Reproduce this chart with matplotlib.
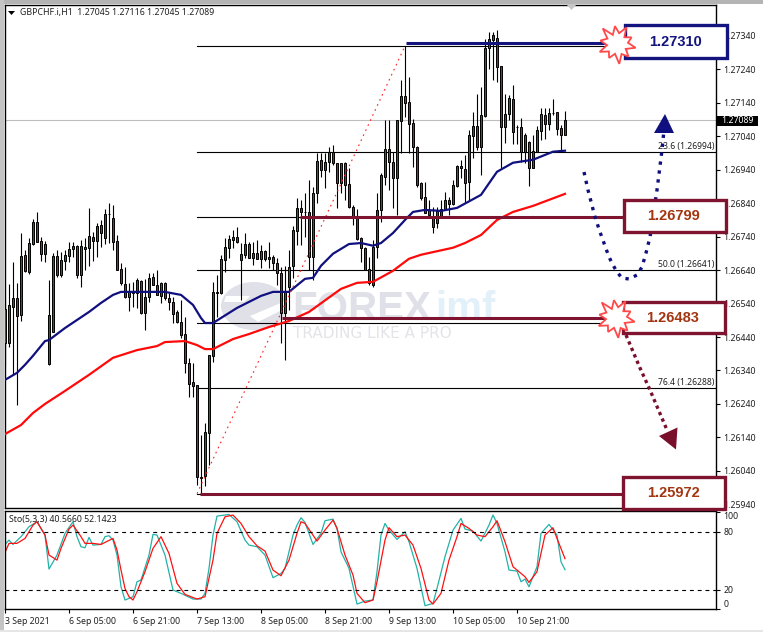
import numpy as np
import matplotlib
matplotlib.use("Agg")
import matplotlib.pyplot as plt
from matplotlib.patches import Rectangle, Polygon, Ellipse

# candles, in 1e-5 price units (126524 = 1.26524)
opens = [126524, 126422, 126530, 126557, 126506, 126686, 126635, 126718, 126784, 126727,
         126689, 126360, 126455, 126683, 126626, 126668, 126683, 126704, 126713, 126626,
         126704, 126707, 126739, 126727, 126775, 126736, 126808, 126796, 126727, 126644,
         126599, 126560, 126572, 126572, 126608, 126512, 126560, 126620, 126596, 126563,
         126602, 126557, 126545, 126485, 126485, 126449, 126363, 126306, 126297, 126022,
         126025, 126153, 126384, 126575, 126572, 126671, 126707, 126730, 126739, 126671,
         126686, 126718, 126677, 126692, 126674, 126698, 126674, 126680, 126662, 126632,
         126512, 126590, 126653, 126757, 126826, 126814, 126814, 126680, 126871, 126970,
         126940, 126964, 126994, 126961, 126901, 126961, 126898, 126829, 126799, 126736,
         126707, 126644, 126596, 126710, 126820, 126919, 127002, 126964, 126916, 127086,
         127161, 127143, 127080, 127008, 126901, 126859, 126805, 126799, 126781, 126799,
         126823, 126850, 126838, 126892, 126952, 126943, 126904, 127041, 127071, 127008,
         127101, 127305, 127328, 127334, 127251, 127068, 127107, 127152, 127068, 127068,
         126994, 127023, 126946, 126994, 127056, 127104, 127077, 127110, 127113, 127065, 127045]
highs = [126551, 126599, 126665, 126602, 126751, 126701, 126736, 126793, 126814, 126739,
         126727, 126611, 126692, 126701, 126695, 126701, 126724, 126724, 126715, 126730,
         126736, 126826, 126754, 126781, 126790, 126823, 126841, 126835, 126745, 126662,
         126650, 126602, 126605, 126617, 126611, 126614, 126632, 126632, 126641, 126605,
         126605, 126572, 126560, 126521, 126551, 126500, 126378, 126363, 126297, 126147,
         126183, 126387, 126605, 126626, 126686, 126736, 126745, 126760, 126769, 126721,
         126751, 126724, 126724, 126730, 126715, 126701, 126724, 126686, 126677, 126650,
         126653, 126701, 126772, 126856, 126850, 126871, 126910, 126889, 126991, 126991,
         126991, 127008, 127014, 126961, 126961, 126964, 126946, 126835, 126823, 126739,
         126710, 126680, 126730, 126871, 126931, 127089, 127089, 126994, 127089, 127209,
         127310, 127218, 127092, 127011, 126904, 126904, 126850, 126829, 126829, 126850,
         126874, 126859, 126910, 126955, 126970, 126985, 127059, 127113, 127167, 127188,
         127331, 127352, 127352, 127358, 127251, 127167, 127164, 127194, 127074, 127095,
         127050, 127026, 127044, 127071, 127125, 127125, 127125, 127152, 127113, 127074, 127116]
lows = [126357, 126410, 126327, 126237, 126488, 126635, 126629, 126715, 126724, 126668,
        126665, 126357, 126455, 126620, 126620, 126641, 126665, 126680, 126617, 126590,
        126641, 126653, 126668, 126680, 126710, 126718, 126721, 126701, 126641, 126596,
        126557, 126518, 126530, 126527, 126509, 126461, 126545, 126596, 126566, 126542,
        126551, 126521, 126482, 126482, 126437, 126333, 126261, 126261, 125998, 125972,
        125995, 126058, 126366, 126500, 126569, 126635, 126677, 126707, 126721, 126551,
        126677, 126677, 126656, 126674, 126647, 126668, 126647, 126641, 126596, 126422,
        126372, 126521, 126617, 126715, 126715, 126739, 126641, 126611, 126841, 126919,
        126886, 126934, 126955, 126826, 126871, 126850, 126826, 126775, 126730, 126665,
        126641, 126596, 126590, 126677, 126784, 126895, 126880, 126826, 126805, 126991,
        127098, 126991, 126949, 126889, 126850, 126811, 126805, 126751, 126766, 126799,
        126820, 126805, 126835, 126889, 126916, 126841, 126850, 126975, 126999, 126925,
        127098, 127242, 127209, 127203, 126946, 127020, 127089, 127017, 127017, 126964,
        126961, 126892, 126946, 126994, 127029, 127032, 127059, 127104, 127044, 126999, 127045]
closes = [126422, 126536, 126557, 126503, 126683, 126638, 126721, 126784, 126724, 126689,
          126718, 126506, 126683, 126626, 126671, 126686, 126704, 126713, 126626, 126713,
          126710, 126742, 126727, 126772, 126751, 126808, 126808, 126724, 126641, 126602,
          126560, 126575, 126575, 126611, 126512, 126560, 126617, 126596, 126566, 126602,
          126557, 126545, 126509, 126515, 126446, 126363, 126300, 126294, 126022, 126019,
          126156, 126387, 126575, 126572, 126674, 126710, 126733, 126739, 126724, 126689,
          126718, 126677, 126692, 126674, 126698, 126674, 126680, 126662, 126632, 126512,
          126578, 126650, 126760, 126826, 126814, 126814, 126680, 126871, 126967, 126940,
          126964, 126994, 126961, 126901, 126961, 126895, 126829, 126802, 126733, 126707,
          126641, 126602, 126710, 126820, 126925, 127002, 126964, 126916, 127089, 127161,
          127140, 127077, 127008, 126895, 126856, 126811, 126820, 126769, 126817, 126823,
          126850, 126838, 126895, 126952, 126946, 126901, 127044, 127071, 127008, 127104,
          127305, 127331, 127343, 127248, 127068, 127107, 127155, 127053, 127068, 126994,
          127044, 126946, 126997, 127059, 127107, 127077, 127110, 127110, 127062, 127044, 127089]

# moving averages, read at these bars
blue_bars = [0, 3, 5, 7, 10, 11, 15, 21, 24, 27, 29, 34, 40, 44, 47, 49, 50, 52, 54, 58, 64, 67,
             71, 75, 77, 79, 82, 86, 89, 92, 94, 97, 100, 102, 105, 109, 113, 119, 123, 127, 132, 137, 140]
blue_ma = [126312, 126333, 126357, 126384, 126428, 126431, 126467, 126515, 126542, 126566, 126575,
           126575, 126575, 126566, 126536, 126497, 126482, 126482, 126497, 126527, 126563, 126575,
           126575, 126614, 126617, 126653, 126689, 126718, 126721, 126713, 126721, 126751, 126790,
           126814, 126820, 126817, 126826, 126865, 126934, 126961, 126970, 126994, 126997]
red_bars = [0, 4, 7, 10, 15, 21, 27, 33, 38, 40, 45, 48, 50, 52, 57, 61, 66, 71, 76, 84, 88, 92,
            97, 101, 104, 112, 115, 119, 123, 127, 132, 136, 140]
red_ma = [126150, 126177, 126213, 126240, 126279, 126327, 126378, 126401, 126413, 126425, 126428,
          126416, 126404, 126404, 126434, 126449, 126470, 126488, 126515, 126584, 126602, 126605,
          126638, 126674, 126686, 126707, 126721, 126745, 126790, 126814, 126832, 126850, 126868]

# stochastic
k_bars = [0, 1, 2, 4, 6, 8, 10, 11, 13, 15, 17, 18, 19, 20, 21, 22, 24, 25, 26, 27, 28, 29, 30, 32, 33,
          34, 36, 37, 38, 40, 42, 44, 47, 49, 50, 51, 52, 53, 56, 58, 60, 61, 63, 65, 67, 69, 70, 71, 72,
          73, 74, 75, 77, 79, 80, 82, 83, 84, 86, 88, 90, 92, 93, 94, 95, 96, 98, 100, 101, 103, 105, 107,
          108, 110, 112, 114, 115, 117, 119, 121, 122, 123, 125, 126, 128, 129, 130, 131, 133, 134, 136,
          138, 139, 140]
k_vals = [66.8, 71.3, 66.8, 74.8, 85.1, 90.3, 76.5, 41.3, 55.8, 78.2, 90.3, 74.8, 64.4, 63.4, 74.1, 66.1,
          66.8, 74.8, 75.8, 71.3, 55.8, 23.0, 9.3, 12.7, 28.2, 30.0, 55.8, 77.2, 76.5, 55.8, 19.6, 16.2,
          10.3, 10.3, 16.2, 42.0, 76.5, 96.1, 97.8, 90.3, 71.3, 66.1, 64.4, 55.8, 32.4, 36.8, 42.0, 59.2,
          76.5, 86.8, 94.4, 89.6, 66.8, 78.2, 91.3, 93.0, 83.4, 59.2, 42.0, 5.1, 8.2, 9.3, 38.6, 76.5, 88.5,
          81.6, 72.0, 79.9, 69.6, 42.0, 3.4, 5.8, 21.3, 54.1, 81.6, 93.7, 82.7, 80.6, 70.3, 86.8, 97.2, 88.5,
          59.2, 40.3, 39.2, 28.2, 31.0, 23.0, 43.7, 78.2, 87.5, 76.5, 48.9, 40.6]
d_bars = [0, 1, 3, 5, 7, 8, 10, 11, 13, 14, 16, 17, 19, 20, 22, 24, 27, 28, 29, 30, 31, 32, 33, 35, 37,
          39, 41, 43, 45, 48, 50, 51, 52, 53, 55, 57, 59, 61, 63, 65, 67, 69, 71, 73, 74, 75, 78, 80, 82,
          83, 85, 87, 88, 90, 92, 93, 95, 96, 98, 100, 102, 104, 106, 107, 109, 111, 113, 114, 116, 118,
          120, 122, 123, 125, 127, 130, 131, 133, 135, 137, 138, 140]
d_vals = [58.5, 67.9, 67.9, 73.0, 86.8, 90.3, 76.5, 55.8, 50.6, 62.7, 82.7, 86.8, 74.8, 67.9, 67.9, 66.8,
          73.0, 61.0, 40.3, 21.3, 12.7, 9.3, 17.9, 38.6, 62.7, 74.8, 57.5, 26.5, 15.1, 10.3, 12.7, 31.7,
          50.6, 78.2, 95.4, 97.2, 88.5, 74.8, 65.4, 59.9, 40.3, 34.4, 50.6, 78.2, 90.3, 88.5, 70.3, 81.6,
          92.0, 83.4, 55.8, 35.1, 16.2, 6.5, 9.3, 28.2, 71.3, 84.1, 74.8, 76.5, 66.1, 42.0, 9.3, 5.1, 16.2,
          50.6, 74.8, 88.5, 83.4, 76.5, 74.8, 85.1, 91.3, 69.6, 43.7, 33.4, 27.5, 38.6, 76.5, 84.1, 73.0, 52.1]

# fibonacci retracement and marked levels
fib_prices = [1.27310, 1.26994, 1.26799, 1.26641, 1.26483, 1.26288, 1.25972]
fib_labels = {1: "23.6 (1.26994)", 3: "50.0 (1.26641)", 5: "76.4 (1.26288)"}
fib_start = 48
level_prices = [1.27318, 1.26800, 1.26496, 1.25970]
level_starts = [100.25, 73.75, 69.25, 48.75]
level_colors = ["#14147e", "#7f1430", "#7f1430", "#7f1430"]
last_price = 1.27089

tick_bars = [0, 16, 32, 48, 64, 80, 96, 112, 128]
tick_names = ["3 Sep 2021", "6 Sep 05:00", "6 Sep 21:00", "7 Sep 13:00", "8 Sep 05:00",
              "8 Sep 21:00", "9 Sep 13:00", "10 Sep 05:00", "10 Sep 21:00"]
price_ticks = [1.25940 + 0.001 * i for i in range(15)]

W, H = 763, 632
FONT = "Noto Sans"
plt.rcParams["font.family"] = [FONT, "DejaVu Sans"]


def px_rect(left, top, right, bottom):
    return [left / W, 1 - bottom / H, (right - left) / W, (bottom - top) / H]


def burst(ax, cx, cy):
    # spiky label behind the price boxes
    radii = [19, 10, 17, 11, 20, 10, 16, 11, 19, 10, 17, 11, 21, 10, 18, 11, 19, 10, 16, 11]
    ang = np.linspace(0, 2 * np.pi, len(radii), endpoint=False) + 0.2
    pts = np.column_stack([cx + np.array(radii) * np.cos(ang), cy + np.array(radii) * np.sin(ang)])
    ax.add_patch(Polygon(pts, closed=True, fc="white", ec="#ff4a4a", lw=1.3, zorder=4))


fig = plt.figure(figsize=(W / 100, H / 100), dpi=100, facecolor="white")

# background layer: window edge and watermark
bg = fig.add_axes([0, 0, 1, 1], zorder=0)
bg.set_xlim(0, W)
bg.set_ylim(H, 0)
bg.axis("off")
bg.add_patch(Rectangle((0, 0), W, 3.5, fc="#b4b4b4", ec="none"))
bg.add_patch(Rectangle((0, 0), 3.5, H, fc="#c4c4c4", ec="none"))
bg.add_patch(Rectangle((0, 629.5), W, 3, fc="#e6e6e6", ec="none"))
bg.add_patch(Ellipse((254, 306), 66, 48, fc="#e0e1e8", ec="none"))
bg.add_patch(Polygon([(226, 296), (250, 296), (244, 302), (224, 302)], fc="white", ec="none"))
bg.add_patch(Polygon([(250, 316), (288, 300), (290, 306), (258, 322)], fc="white", ec="none"))
bg.text(292, 309, "FOREX", family="Liberation Sans", weight="bold", fontsize=29,
        color="#e0e0e8", va="center", ha="left")
bg.text(435, 309, "imf", family="Liberation Sans", weight="bold", fontsize=29,
        color="#e2f0f9", va="center", ha="left")
bg.text(293, 333.5, "TRADING LIKE A PRO", family="DejaVu Sans", fontsize=11,
        color="#e4e4e8", va="center", ha="left")

# main price pane
ax = fig.add_axes(px_rect(4.5, 4.5, 715.5, 508), zorder=1)
ax.patch.set_alpha(0)
ax.set_xlim(-0.125, 177.625)
ax.set_ylim(1.25929, 1.27434)

o = np.array(opens) / 1e5
h = np.array(highs) / 1e5
l = np.array(lows) / 1e5
c = np.array(closes) / 1e5
bars = np.arange(len(o))

ax.axhline(last_price, color="#bdbdbd", lw=0.8, zorder=1)
for p in fib_prices:
    ax.plot([fib_start, 177.625], [p, p], color="black", lw=0.8, zorder=1)
for i, txt in fib_labels.items():
    ax.text(177.3, fib_prices[i] + 0.00002, txt, fontsize=6.2, color="#202020", ha="right", va="bottom", zorder=6)

ax.vlines(bars, l, h, color="black", lw=0.8, zorder=2)
up = c >= o
ax.bar(bars[up], (c - o)[up], bottom=o[up], width=0.55, color="#117a11", edgecolor="black", lw=0.7, zorder=3)
ax.bar(bars[~up], (o - c)[~up], bottom=c[~up], width=0.55, color="#d8101a", edgecolor="black", lw=0.7, zorder=3)

ax.plot(blue_bars, np.array(blue_ma) / 1e5, color="#10107f", lw=1.6, zorder=4)
ax.plot(red_bars, np.array(red_ma) / 1e5, color="#ff0a0a", lw=1.6, zorder=4)
ax.plot([48, 100], [fib_prices[6], fib_prices[0]], color="#ff2020", lw=0.8, ls=(0, (1.5, 3.5)), zorder=4)
for p, s, col in zip(level_prices, level_starts, level_colors):
    ax.plot([s, 158], [p, p], color=col, lw=2.2, solid_capstyle="butt", zorder=5)

ax.set_xticks([])
ax.yaxis.tick_right()
ax.set_yticks(price_ticks)
ax.set_yticklabels(["%.5f" % p for p in price_ticks])
ax.tick_params(axis="y", length=3, width=0.8, pad=2.5, labelsize=6.3, labelcolor="#202020")
for s in ax.spines.values():
    s.set_linewidth(1.0)

# stochastic pane
ax2 = fig.add_axes(px_rect(4.5, 510.5, 715.5, 609), zorder=1)
ax2.set_xlim(-0.125, 177.625)
ax2.set_ylim(0, 101.9)
ax2.plot(k_bars, k_vals, color="#22b2a8", lw=0.9)
ax2.plot(d_bars, d_vals, color="#ff1010", lw=0.9)
ax2.axhline(80, color="black", lw=0.8, ls=(0, (3.5, 3.5)))
ax2.axhline(20, color="black", lw=0.8, ls=(0, (3.5, 3.5)))
ax2.yaxis.tick_right()
ax2.set_yticks([100, 80, 20, 0])
ax2.set_yticklabels(["100", "80", "20", "0"])
ax2.get_yticklabels()[0].set_va("top")
ax2.get_yticklabels()[3].set_va("bottom")
ax2.tick_params(axis="y", length=3, width=0.8, pad=2.5, labelsize=6.3, labelcolor="#202020")
ax2.set_xticks(tick_bars)
ax2.set_xticklabels(tick_names, ha="left")
ax2.tick_params(axis="x", length=3, width=0.8, pad=2.5, labelsize=6.3, labelcolor="#202020")
for s in ax2.spines.values():
    s.set_linewidth(1.0)
ax2.text(9 / 711 * 1, 0, "", transform=ax2.transAxes)

# top layer: price boxes, arrows, headings
top = fig.add_axes([0, 0, 1, 1], zorder=2)
top.set_xlim(0, W)
top.set_ylim(H, 0)
top.axis("off")
top.patch.set_alpha(0)

top.add_patch(Polygon([(8, 11), (15, 11), (11.5, 15)], fc="black", ec="none"))
top.text(20, 12.5, "GBPCHF.i,H1  1.27045 1.27116 1.27045 1.27089", fontsize=6.3, color="#202020", va="center")
top.text(9, 519.5, "Sto(5,3,3) 40.5660 52.1423", fontsize=6.3, color="#202020", va="center")
top.add_patch(Polygon([(566, 4), (577, 4), (571.5, 10)], fc="#c6c6c6", ec="none"))

curve_x = [584, 588, 595, 600, 609, 613, 617, 622, 629, 637, 642, 646, 650, 657, 662, 664]
curve_y = [172, 190, 217, 232, 257, 265, 272, 278, 279, 275, 267, 253, 237, 190, 150, 130]
top.plot(curve_x, curve_y, color="#0f0f7f", lw=2.4, ls=(0, (1, 1.7)), dash_capstyle="butt", zorder=2)
top.add_patch(Polygon([(665, 114), (654, 133), (674, 133)], fc="#0f0f7f", ec="none", zorder=3))

down_x = [626, 640, 650, 667]
down_y = [335, 368, 390, 430]
top.plot(down_x, down_y, color="#7a0f2c", lw=2.4, ls=(0, (1, 1.1)), dash_capstyle="butt", zorder=2)
top.add_patch(Polygon([(659, 436), (677.5, 427.5), (676, 449.5)], fc="#7a0f2c", ec="none", zorder=3))

boxes = [(625, 25, 727, 58, "#14147e", "#14147e", "1.27310"),
         (624, 200, 726, 232, "#7f1430", "#a33510", "1.26799"),
         (623, 302, 725, 333, "#7f1430", "#a33510", "1.26483"),
         (623, 477, 725, 509, "#7f1430", "#a33510", "1.25972")]
for x0, y0, x1, y1, edge, tc, txt in boxes:
    top.add_patch(Rectangle((x0, y0), x1 - x0, y1 - y0, fc="white", ec=edge, lw=2.4, zorder=3))
    top.text((x0 + x1) / 2 - 1, (y0 + y1) / 2, txt, family="Liberation Sans", weight="bold", fontsize=10.5,
             color=tc, ha="center", va="center", zorder=5)

burst(top, 617, 44)
burst(top, 616, 318)

# current price tag
top.add_patch(Rectangle((717, 115.5), 41, 10, fc="black", ec="none", zorder=5))
top.text(737.5, 120.5, "%.5f" % last_price, fontsize=6.3, color="white", ha="center", va="center", zorder=6)

fig.savefig("out.png", dpi=100)
